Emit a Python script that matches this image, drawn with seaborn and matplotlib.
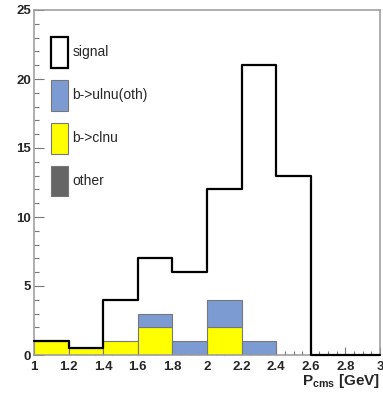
import numpy as np
import pandas as pd
import seaborn as sns
import matplotlib
matplotlib.use("Agg")
import matplotlib.pyplot as plt
from matplotlib.patches import Patch
from matplotlib.ticker import MultipleLocator

# Momentum bins (GeV)
bin_edges = [1.0, 1.2, 1.4, 1.6, 1.8, 2.0, 2.2, 2.4, 2.6, 2.8, 3.0]
bin_centers = [1.1, 1.3, 1.5, 1.7, 1.9, 2.1, 2.3, 2.5, 2.7, 2.9]

# Event counts per bin
signal = [1, 0.5, 4, 7, 6, 12, 21, 13, 0, 0]
b_ulnu_oth = [0, 0, 0, 1, 1, 2, 1, 0, 0, 0]
b_clnu = [1, 0.5, 1, 2, 0, 2, 0, 0, 0, 0]
other = [0, 0, 0, 0, 0, 0, 0, 0, 0, 0]

components = ["other", "b->ulnu(oth)", "b->clnu"]
comp_values = [other, b_ulnu_oth, b_clnu]
comp_colors = {"other": "#666666", "b->ulnu(oth)": "#7b9bd2", "b->clnu": "#ffff00"}

sns.set_style("ticks")
plt.rcParams["font.family"] = ["Liberation Sans", "DejaVu Sans"]
plt.rcParams["mathtext.fontset"] = "custom"
plt.rcParams["mathtext.bf"] = "Liberation Sans:bold"
plt.rcParams["mathtext.rm"] = "Liberation Sans"

bkg = pd.DataFrame({
    "p": np.tile(bin_centers, len(components)),
    "w": np.concatenate(comp_values),
    "comp": np.repeat(components, len(bin_centers)),
})
sig = pd.DataFrame({"p": bin_centers, "w": signal})

fig = plt.figure(figsize=(3.83, 3.99), dpi=100)
ax = fig.add_axes([34 / 383, 1 - 355 / 399, 346 / 383, 345 / 399])

# Stacked backgrounds (last hue level sits at the bottom of the stack)
sns.histplot(data=bkg, x="p", weights="w", hue="comp", hue_order=components,
             bins=bin_edges, multiple="stack", element="bars",
             palette=comp_colors, alpha=1.0, edgecolor="#777777",
             linewidth=0.8, legend=False, ax=ax)
# hide empty bars so they do not draw stray outlines
for patch in list(ax.patches):
    if patch.get_height() == 0:
        patch.remove()

# Signal outline
sns.histplot(data=sig, x="p", weights="w", bins=bin_edges, element="step",
             fill=False, color="black", linewidth=1.6, ax=ax)
for line in ax.lines:
    line.set_clip_on(False)
    line.set_zorder(3)

ax.set_xlim(1.0, 3.0)
ax.set_ylim(0, 25)
ax.xaxis.set_major_locator(MultipleLocator(0.2))
ax.xaxis.set_minor_locator(MultipleLocator(0.05))
ax.yaxis.set_major_locator(MultipleLocator(5))
ax.yaxis.set_minor_locator(MultipleLocator(1))
ax.set_xticks(bin_edges)
ax.set_xticklabels(["1", "1.2", "1.4", "1.6", "1.8", "2", "2.2", "2.4",
                    "2.6", "2.8", "3"])
ax.tick_params(axis="both", which="both", direction="in", color="#777777",
               labelsize=9.5, width=0.8)
ax.tick_params(axis="x", which="major", length=6, pad=4)
ax.tick_params(axis="x", which="minor", length=3)
ax.tick_params(axis="y", which="major", length=7, pad=2)
ax.tick_params(axis="y", which="minor", length=3.5)
for lab in ax.get_xticklabels() + ax.get_yticklabels():
    lab.set_fontweight("bold")

for s in ax.spines.values():
    s.set_color("#999999")
    s.set_linewidth(1.1)

ax.set_ylabel("")
ax.set_xlabel(r"$\mathbf{P_{cms}}$ [GeV]", fontsize=11, fontweight="bold",
              ha="right")
ax.xaxis.set_label_coords(1.0, -0.05)

handles = [
    Patch(facecolor="white", edgecolor="black", linewidth=1.6, label="signal"),
    Patch(facecolor=comp_colors["b->ulnu(oth)"], edgecolor="#777777",
          linewidth=0.8, label="b->ulnu(oth)"),
    Patch(facecolor=comp_colors["b->clnu"], edgecolor="#777777",
          linewidth=0.8, label="b->clnu"),
    Patch(facecolor=comp_colors["other"], edgecolor="#777777",
          linewidth=0.8, label="other"),
]
ax.legend(handles=handles, loc="upper left", bbox_to_anchor=(0.049, 0.922),
          frameon=False, fontsize=10, handlelength=1.25, handleheight=3.05,
          handletextpad=0.3, labelspacing=0.86, borderpad=0, borderaxespad=0)

fig.savefig("out.png", dpi=100)
